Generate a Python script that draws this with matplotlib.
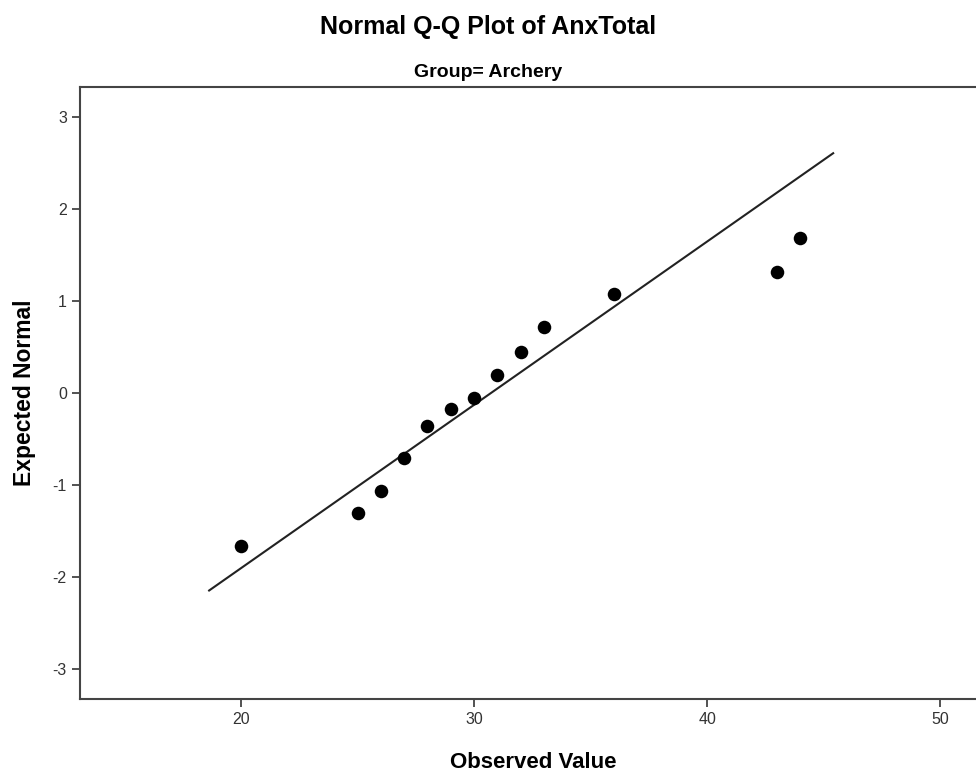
import numpy as np
import matplotlib
matplotlib.use('Agg')
import matplotlib.pyplot as plt

# observed AnxTotal values and their expected normal scores
observed = [20, 25, 26, 27, 28, 29, 30, 31, 32, 33, 36, 43, 44]
expected = [-1.67, -1.31, -1.07, -0.71, -0.36, -0.17, -0.05, 0.19, 0.44, 0.72, 1.08, 1.32, 1.68]

# reference line: y = (x - mean) / sd
line_mean = 30.73
line_sd = 5.63
line_x = [18.63, 45.41]

x_ticks = [20, 30, 40, 50]
y_ticks = [-3, -2, -1, 0, 1, 2, 3]

plt.rcParams['font.family'] = ['Liberation Sans', 'DejaVu Sans']
plt.rcParams['axes.unicode_minus'] = False

fig = plt.figure(figsize=(9.76, 7.75), dpi=100)
ax = fig.add_axes([0.082, 0.098, 0.929, 0.79])

lx = np.array(line_x)
ax.plot(lx, (lx - line_mean) / line_sd, color='#222222', lw=1.5, zorder=2)
ax.scatter(observed, expected, s=95, color='black', zorder=3, linewidths=0)

ax.set_xlim(13.09, 52)
ax.set_ylim(-3.33, 3.33)
ax.set_xticks(x_ticks)
ax.set_yticks(y_ticks)

for s in ax.spines.values():
    s.set_color('#444444')
    s.set_linewidth(1.5)
ax.tick_params(direction='out', length=6, width=1.3, color='#444444',
               labelcolor='#333333', labelsize=11.5)

ax.set_xlabel('Observed Value', fontsize=16, fontweight='bold', labelpad=18)
ax.set_ylabel('Expected Normal', fontsize=16.5, fontweight='bold', labelpad=12)

fig.text(0.5, 0.965, 'Normal Q-Q Plot of AnxTotal', ha='center', va='center',
         fontsize=18, fontweight='bold')
fig.text(0.5, 0.907, 'Group= Archery', ha='center', va='center',
         fontsize=14, fontweight='bold')

fig.savefig('out.png', dpi=100)
